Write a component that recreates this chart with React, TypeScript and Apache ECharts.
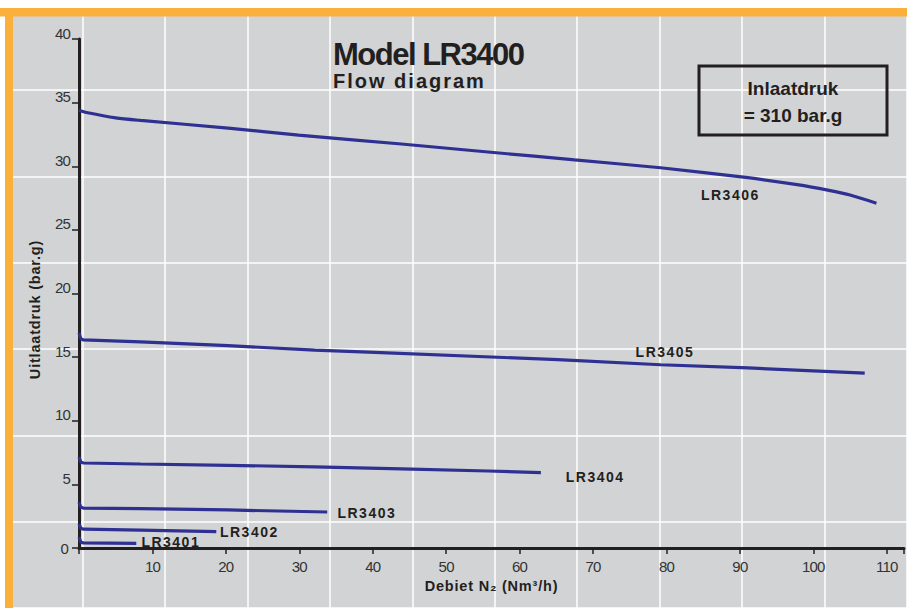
import React, { useEffect, useRef } from 'react';
import * as echarts from 'echarts';

// ---- data ----
const seriesNames = ['LR3406', 'LR3405', 'LR3404', 'LR3403', 'LR3402', 'LR3401'];

const flow3406 = [0, 1.2, 5, 8.4, 20.3, 29.9, 43.9, 55.7, 67.5, 79.2, 91.1, 97.8, 102.3, 105, 108.6];
const pres3406 = [34.4, 34.2, 33.8, 33.6, 33.0, 32.45, 31.75, 31.12, 30.5, 29.88, 29.1, 28.55, 28.08, 27.74, 27.1];

const flow3405 = [0, 0.25, 0.6, 8.4, 20.3, 32.1, 39.4, 65.2, 79.2, 91.1, 107];
const pres3405 = [16.9, 16.45, 16.35, 16.2, 15.9, 15.55, 15.4, 14.8, 14.4, 14.15, 13.75];

const flow3404 = [0, 0.25, 0.6, 8.4, 20.3, 32.1, 43.9, 55.7, 62.9];
const pres3404 = [7.15, 6.75, 6.68, 6.6, 6.5, 6.38, 6.22, 6.05, 5.92];

const flow3403 = [0, 0.25, 0.6, 8.4, 20.3, 33.8];
const pres3403 = [3.6, 3.2, 3.14, 3.1, 2.99, 2.83];

const flow3402 = [0, 0.25, 0.6, 8.4, 18.7];
const pres3402 = [1.9, 1.55, 1.48, 1.4, 1.28];

const flow3401 = [0, 0.25, 0.6, 7.8];
const pres3401 = [0.86, 0.45, 0.4, 0.37];

// label anchors (data coordinates)
const labelFlow = [88.7, 79.8, 70.3, 39.2, 23.2, 12.5];
const labelPres = [27.74, 15.4, 5.58, 2.75, 1.26, 0.47];

const flows = [flow3406, flow3405, flow3404, flow3403, flow3402, flow3401];
const pressures = [pres3406, pres3405, pres3404, pres3403, pres3402, pres3401];

const xMax = 112.35;
const yMax = 40;

const FONT = "'Liberation Sans', Arial, Helvetica, sans-serif";
const INK = '#231f20';
const BLUE = '#2e3192';
const ORANGE = '#fbb03b';
const GREY = '#d2d3d5';

export default function App() {
  const ref = useRef<HTMLDivElement>(null);
  useEffect(() => {
    if (!ref.current) return;
    const chart = echarts.init(ref.current, undefined, { renderer: 'svg', width: 907, height: 608 });

    const series: any[] = seriesNames.map((name, i) => ({
      type: 'line',
      name,
      xAxisIndex: 0,
      yAxisIndex: 0,
      data: flows[i].map((f, j) => [f, pressures[i][j]]),
      showSymbol: false,
      symbol: 'none',
      smooth: i === 0 ? 0.25 : false,
      lineStyle: { color: BLUE, width: 3.2, cap: 'butt' },
      z: 3,
      silent: true,
      markPoint: {
        symbol: 'circle',
        symbolSize: 1,
        itemStyle: { color: 'rgba(0,0,0,0)' },
        silent: true,
        data: [{ coord: [labelFlow[i], labelPres[i]], name }],
        label: {
          show: true,
          position: 'inside',
          formatter: name,
          color: INK,
          fontSize: 14,
          fontWeight: 'bold',
          fontFamily: FONT,
        },
      },
    }));

    chart.setOption({
      animation: false,
      backgroundColor: GREY,
      grid: [
        { left: 79, right: 0, top: 39, bottom: 60, containLabel: false },
        { left: -33.1, top: 3.8, width: 87.1 * 11, height: 87.2 * 7, containLabel: false },
      ],
      xAxis: [
        {
          type: 'value',
          gridIndex: 0,
          min: 0,
          max: xMax,
          interval: 10,
          z: 2,
          name: 'Debiet N\u2082 (Nm³/h)',
          nameLocation: 'middle',
          nameGap: 29,
          nameTextStyle: {
            color: INK,
            fontSize: 14.5,
            fontWeight: 'bold',
            fontFamily: FONT,
          },
          axisLine: { show: true, onZero: false, lineStyle: { color: INK, width: 3 } },
          axisTick: { show: true, length: 6, lineStyle: { color: INK, width: 1.5 } },
          axisLabel: {
            margin: 11,
            color: '#333',
            fontSize: 15,
            fontFamily: FONT,
            formatter: (v: number) => (v > 0 && Math.abs(v % 10) < 1e-6 ? String(v) : ''),
          },
          splitLine: { show: false },
        },
        {
          type: 'value',
          gridIndex: 1,
          min: 0,
          max: 11,
          interval: 1,
          z: 0,
          axisLine: { show: false },
          axisTick: { show: false },
          axisLabel: { show: false },
          splitLine: { show: true, lineStyle: { color: '#ffffff', width: 1.5 } },
        },
      ],
      yAxis: [
        {
          type: 'value',
          gridIndex: 0,
          min: 0,
          max: yMax,
          interval: 5,
          z: 2,
          name: 'Uitlaatdruk (bar.g)',
          nameLocation: 'middle',
          nameGap: 31,
          nameTextStyle: {
            color: INK,
            fontSize: 14.5,
            fontWeight: 'bold',
            fontFamily: FONT,
            padding: [0, 32, 0, 0],
          },
          axisLine: { show: true, onZero: false, lineStyle: { color: INK, width: 3 } },
          axisTick: { show: true, length: 7, lineStyle: { color: INK, width: 1.5 } },
          axisLabel: {
            margin: 9,
            color: '#333',
            fontSize: 15,
            fontFamily: FONT,
            formatter: (v: number) => (v === 0 ? '{z|0}' : '{n|' + v + '}'),
            rich: {
              n: { fontSize: 15, fontFamily: FONT, color: '#333', padding: [0, 0, 12, 0] },
              z: { fontSize: 15, fontFamily: FONT, color: '#333', padding: [0, 2, 0, 0] },
            },
          },
          splitLine: { show: false },
        },
        {
          type: 'value',
          gridIndex: 1,
          min: 0,
          max: 7,
          interval: 1,
          z: 0,
          axisLine: { show: false },
          axisTick: { show: false },
          axisLabel: { show: false },
          splitLine: { show: true, lineStyle: { color: '#ffffff', width: 1.5 } },
        },
      ],
      series,
      graphic: [
        { type: 'rect', z: 100, silent: true, shape: { x: 0, y: 0, width: 907, height: 8 }, style: { fill: '#ffffff' } },
        { type: 'rect', z: 100, silent: true, shape: { x: 0, y: 0, width: 5, height: 608 }, style: { fill: '#ffffff' } },
        { type: 'rect', z: 101, silent: true, shape: { x: 0, y: 8, width: 907, height: 8.5 }, style: { fill: ORANGE } },
        { type: 'rect', z: 101, silent: true, shape: { x: 5, y: 8, width: 8, height: 600 }, style: { fill: ORANGE } },
        {
          type: 'text', z: 50, silent: true, x: 333, y: 54,
          style: { text: 'Model LR3400', fill: INK, font: `bold 31px ${FONT}`, textAlign: 'left', textVerticalAlign: 'middle' },
        },
        {
          type: 'text', z: 50, silent: true, x: 333, y: 81,
          style: { text: 'Flow diagram', fill: INK, font: `bold 20px ${FONT}`, textAlign: 'left', textVerticalAlign: 'middle' },
        },
        {
          type: 'rect', z: 50, silent: true,
          shape: { x: 699, y: 66, width: 188, height: 69 },
          style: { fill: 'none', stroke: INK, lineWidth: 3 },
        },
        {
          type: 'text', z: 50, silent: true, x: 793, y: 88,
          style: { text: 'Inlaatdruk', fill: INK, font: `bold 19px ${FONT}`, textAlign: 'center', textVerticalAlign: 'middle' },
        },
        {
          type: 'text', z: 50, silent: true, x: 793, y: 115,
          style: { text: '= 310 bar.g', fill: INK, font: `bold 19px ${FONT}`, textAlign: 'center', textVerticalAlign: 'middle' },
        },
      ],
    });
    return () => chart.dispose();
  }, []);

  return (
    <>
      <style>{`
        #lr-chart text[style*="14px"] { letter-spacing: 1.5px; }
        #lr-chart text[style*="14.5px"] { letter-spacing: 0.8px; }
        #lr-chart text[style*="15px"] { letter-spacing: -0.8px; }
        #lr-chart text[style*="20px"] { letter-spacing: 2px; }
        #lr-chart text[style*="31px"] { letter-spacing: -1.5px; }
      `}</style>
      <div
        id="lr-chart"
        ref={ref}
        style={{ position: 'fixed', left: 0, top: 0, width: 907, height: 608, background: GREY }}
      />
    </>
  );
}
